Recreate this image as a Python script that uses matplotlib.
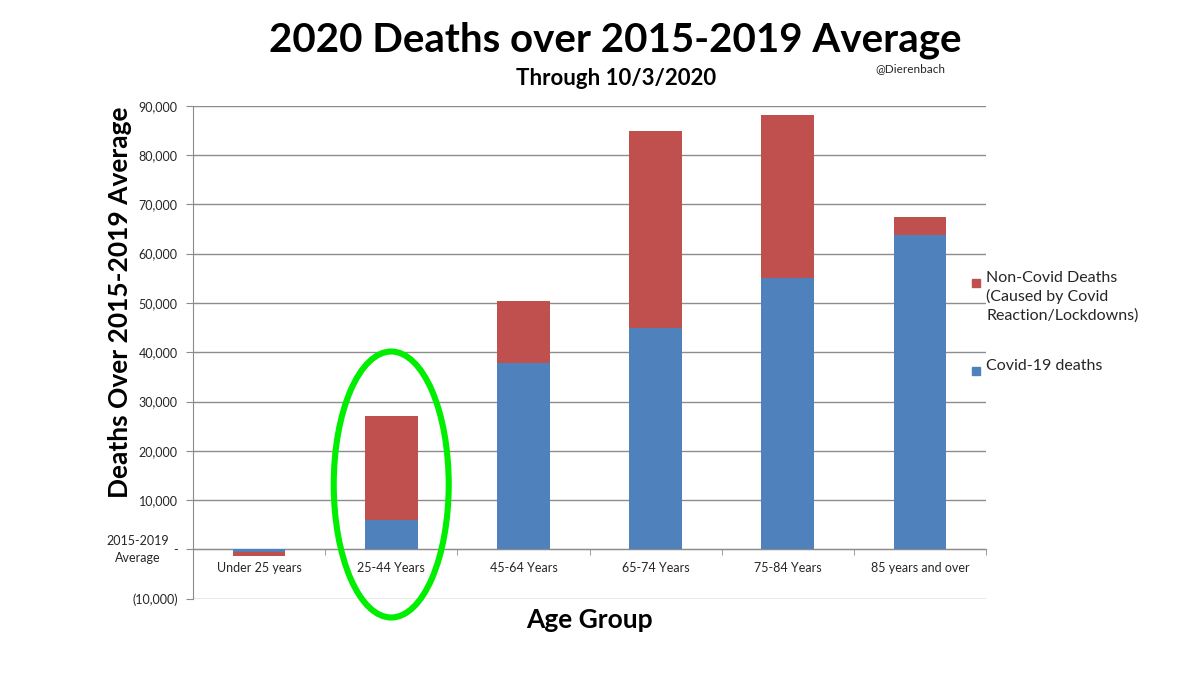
import matplotlib
matplotlib.use("Agg")
import matplotlib.pyplot as plt
from matplotlib.patches import Ellipse, Rectangle
from matplotlib.ticker import FuncFormatter, FixedLocator

plt.rcParams['font.family'] = ['Lato', 'DejaVu Sans']

# data (deaths over 2015-2019 average, through 10/3/2020)
age_groups = ['Under 25 years', '25-44 Years', '45-64 Years',
              '65-74 Years', '75-84 Years', '85 years and over']
covid_deaths = [-500, 5900, 37900, 45000, 55000, 63700]
non_covid_deaths = [-800, 21100, 12400, 39800, 33200, 3800]

BLUE = '#4F81BD'
RED = '#C0504D'
GRID = '#8C8C8C'
TXT = '#262626'

fig = plt.figure(figsize=(12, 6.75), dpi=100)
ax = fig.add_axes([0.1608, 0.113, 0.6609, 0.7304])

x = list(range(len(age_groups)))
ax.bar(x, covid_deaths, width=0.4, color=BLUE, zorder=3)
ax.bar(x, non_covid_deaths, width=0.4, bottom=covid_deaths, color=RED, zorder=3)

ax.set_xlim(-0.5, len(age_groups) - 0.5)
ax.set_ylim(-10000, 90000)

# y axis
ax.yaxis.set_major_locator(FixedLocator(range(-10000, 90001, 10000)))

def fmt(v, pos):
    if v == 0:
        return '-'
    if v < 0:
        return '({:,.0f})'.format(-v)
    return '{:,.0f}'.format(v)

ax.yaxis.set_major_formatter(FuncFormatter(fmt))
ax.tick_params(axis='y', length=5, color=GRID, labelsize=9, labelcolor=TXT, pad=6)
ax.yaxis.grid(True, color=GRID, linewidth=1, zorder=0)
ax.set_axisbelow(True)

# x axis crosses at zero
ax.spines['bottom'].set_position(('data', 0))
ax.spines['bottom'].set_color(GRID)
ax.spines['left'].set_color(GRID)
ax.spines['top'].set_visible(False)
ax.spines['right'].set_visible(False)
ax.set_xticks(x)
ax.set_xticklabels(age_groups)
ax.set_xticks([i - 0.5 for i in range(len(age_groups) + 1)], minor=True)
ax.tick_params(axis='x', which='major', length=0, labelsize=9, labelcolor=TXT, pad=9)
ax.tick_params(axis='x', which='minor', length=4, color=GRID, direction='out')

ax.text(-0.07, 0, '2015-2019\nAverage', transform=ax.get_yaxis_transform(),
        ha='center', va='center', fontsize=9, color=TXT, linespacing=1.45)

fig.text(0.1, 0.5526, 'Deaths Over 2015-2019 Average', rotation=90, ha='center',
         va='center', fontsize=19, fontweight='bold', color='black')
fig.text(0.491, 0.0815, 'Age Group', ha='center', va='center', fontsize=19,
         fontweight='bold', color='black')

# titles
fig.text(0.513, 0.941, '2020 Deaths over 2015-2019 Average', ha='center', va='center',
         fontsize=29, fontweight='bold', color='black')
fig.text(0.513, 0.884, 'Through 10/3/2020', ha='center', va='center',
         fontsize=16, fontweight='bold', color='black')
fig.text(0.759, 0.899, '@Dierenbach', ha='center', va='center', fontsize=8.5, color=TXT)

# legend (square aligned with first line, like the original)
legend_items = [(RED, 'Non-Covid Deaths\n(Caused by Covid\nReaction/Lockdowns)', 0.5807, 0.5985),
                (BLUE, 'Covid-19 deaths', 0.4504, 0.468)]
for col, lab, ysq, ytxt in legend_items:
    fig.patches.append(Rectangle((0.8100, ysq - 0.0059), 0.0067, 0.0118,
                                 transform=fig.transFigure, color=col))
    fig.text(0.8217, ytxt, lab, ha='left', va='top', fontsize=11.5,
             color=TXT, linespacing=1.35)

# green highlight ring round 25-44
ring = Ellipse((1, 13170), 0.87, 53950, fill=False, edgecolor='#00EE00',
               linewidth=4.4, clip_on=False, zorder=5)
ax.add_patch(ring)

fig.savefig('out.png', dpi=100)
